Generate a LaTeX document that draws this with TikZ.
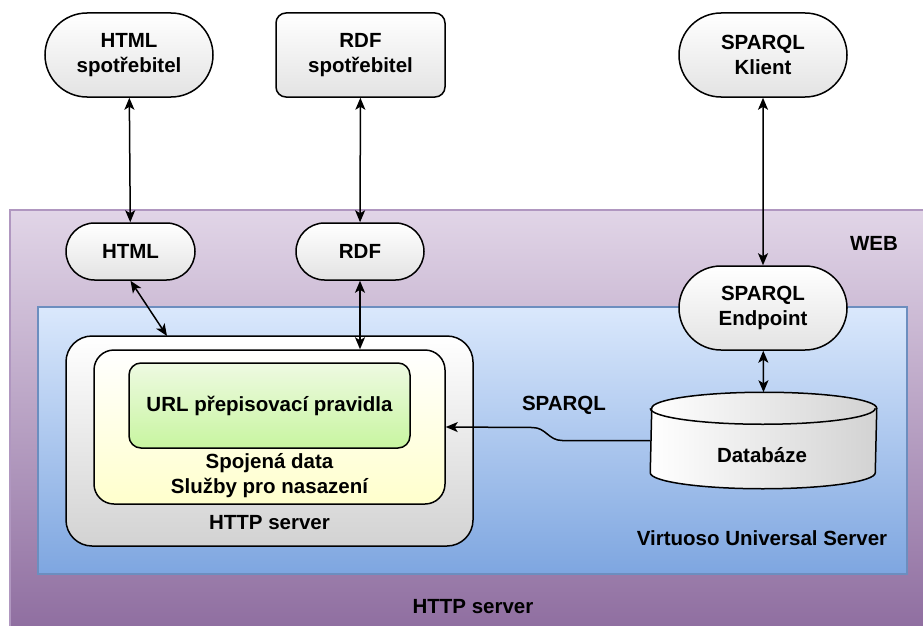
\documentclass[tikz,border=0pt]{standalone}
\usepackage{fontspec}
\setmainfont{Liberation Sans}
\usetikzlibrary{arrows.meta,positioning,shapes,calc}
\definecolor{webtop}{HTML}{E1D5E7}
\definecolor{webbot}{HTML}{8F6EA0}
\definecolor{webline}{HTML}{B097C0}
\definecolor{virttop}{HTML}{DAE8FC}
\definecolor{virtbot}{HTML}{7EA6E0}
\definecolor{virtline}{HTML}{6C8EBF}
\definecolor{urltop}{HTML}{EEFAE2}
\definecolor{urlbot}{HTML}{C8F5A0}
\definecolor{databot}{HTML}{FFFFCC}

\begin{document}
\begin{tikzpicture}[x=1pt, y=-1pt, >={Stealth[length=12pt,width=10pt,inset=3pt]}, line width=1.5pt,
  layer/.style={draw, line width=1.2pt, inner sep=0pt},
  term node/.style={rounded rectangle, draw, top color=white, bottom color=gray!22, inner sep=0pt, align=center},
  proc node/.style={rectangle, rounded corners=#1, draw, inner sep=0pt, align=center},
  proc node/.default=10pt]
\useasboundingbox (0,0) rectangle (923,626);
\begin{scope}[every node/.style={font=\fontsize{20.5}{25}\selectfont\bfseries}]
%layers
\node[layer, draw=webline, top color=webtop, bottom color=webbot, minimum width=920, minimum height=420] (web) at (470,420) {};
\node[layer, draw=virtline, top color=virttop, bottom color=virtbot, minimum width=869, minimum height=267] (virt) at (472.5,440.5) {};
\node (weblbl) at (874,243) {WEB};
\node (httplbl) at (473,607) {HTTP server};
\node (virtlbl) at (762,538) {Virtuoso Universal Server};
%clients
\node[term node, minimum width=168, minimum height=84] (hcons) at (129,55) {HTML\\spotřebitel};
\node[proc node, top color=white, bottom color=gray!22, minimum width=169, minimum height=84] (rcons) at (360.5,55) {RDF\\spotřebitel};
\node[term node, minimum width=168, minimum height=84] (sklient) at (763,55) {SPARQL\\Klient};
%web side
\node[term node, minimum width=129, minimum height=57] (html) at (130.5,251.5) {HTML};
\node[term node, minimum width=128, minimum height=57] (rdf) at (360,251.5) {RDF};
\node[term node, minimum width=168, minimum height=84] (sendpt) at (763,308) {SPARQL\\Endpoint};
%server
\node[proc node=26pt, top color=white, bottom color=gray!35, minimum width=407, minimum height=210] (httpbox) at (269.5,441) {};
\node[proc node=20pt, top color=white, bottom color=databot, minimum width=351, minimum height=154] (data) at (269.5,427) {};
\node[proc node=12pt, top color=urltop, bottom color=urlbot, minimum width=281, minimum height=85] (url) at (269.5,405.5) {URL přepisovací pravidla};
\node[align=center] (datalbl) at (269.5,476) {Spojená data\\Služby pro nasazení};
\node (httpboxlbl) at (269.5,523) {HTTP server};
\node[inner sep=0pt, minimum width=225, minimum height=95] (db) at (763.5,440.5) {};
\path[draw, left color=white, right color=gray!35] ($(db.south west)+(0,-16)$) arc[start angle=180, end angle=360, x radius=112.5pt, y radius=16pt]
  -- ($(db.north east)+(0,16)$) arc[start angle=0, end angle=180, x radius=112.5pt, y radius=16pt] -- cycle;
\draw ($(db.north west)+(0,16)$) arc[start angle=180, end angle=360, x radius=112.5pt, y radius=16pt];
\node (dblbl) at (762,455) {Databáze};
\node (sparqllbl) at (564,405) {SPARQL};
\coordinate (hin) at (167,336);
\end{scope}
\begin{scope}[every edge/.style={draw=black, line width=1.5pt, <->}]
\draw (hcons) edge (html);
\draw (rcons) edge (rdf);
\draw (sklient) edge (sendpt);
\draw (html.south) edge (hin);
\draw (rdf.south) edge (rdf.south |- data.north);
\draw (sendpt) edge (db.north);
\end{scope}
\draw[->] (db.west) -- ++(-88,0) .. controls ++(-14,0) and ++(14,0) .. ++(-30,-13) -- (data.east);
\end{tikzpicture}
\end{document}
